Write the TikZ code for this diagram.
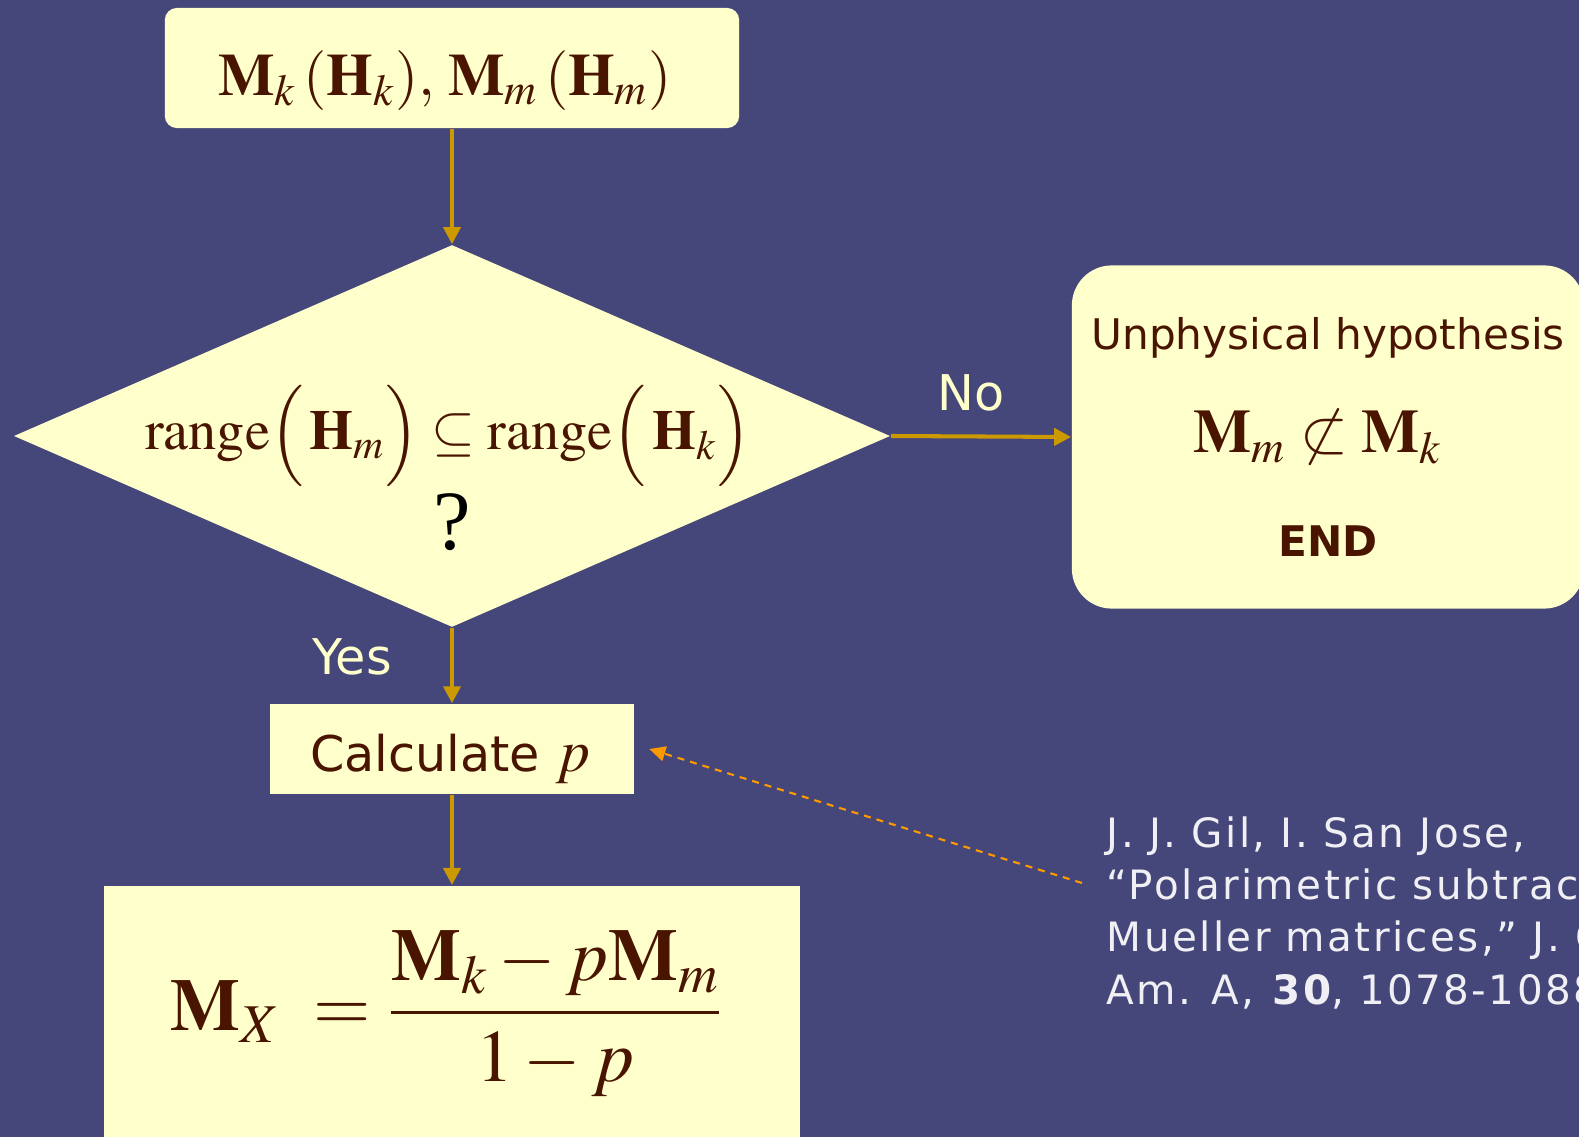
\documentclass[tikz,border=0pt]{standalone}
\usepackage{mathptmx}
\usepackage{fontspec}
\setmainfont{Liberation Serif}
\setsansfont{DejaVu Sans}
\newfontfamily\citefont[LetterSpace=6]{DejaVu Sans}
\usetikzlibrary{shapes.geometric,arrows.meta,positioning}
\definecolor{slidebg}{HTML}{45467A}
\definecolor{cream}{HTML}{FFFFCC}
\definecolor{ink}{HTML}{4A1500}
\definecolor{gold}{HTML}{CC9900}
\definecolor{tangerine}{HTML}{FF9900}

\begin{document}
\begin{tikzpicture}[x=0.01cm, y=-0.01cm,
    box/.style={fill=cream, text=ink, inner sep=0pt},
    flow/.style={gold, line width=1.15pt, -{Triangle[length=0.17cm,width=0.17cm]}},
    refarrow/.style={tangerine, line width=0.6pt, dash pattern=on 2pt off 1.7pt, -{Triangle[length=0.16cm,width=0.15cm]}},
    lbl/.style={text=cream, font=\sffamily\fontsize{14}{16}\selectfont}]
        % Slide
        \useasboundingbox (0,0) rectangle (1579,1137);
        \clip (0,0) rectangle (1579,1137);
        \fill[slidebg] (0,0) rectangle (1579,1137);

        % Boxes
        \node[box, rounded corners=0.12cm, minimum width=5.74cm, minimum height=1.2cm] (inputs) at (452,68) {};
        \node[box, diamond, minimum width=8.76cm, minimum height=3.82cm] (dec) at (452,436) {};
        \node[box, rounded corners=0.4cm, minimum width=5.12cm, minimum height=3.43cm] (unphys) at (1328,437) {};
        \node[box, minimum width=3.63cm, minimum height=0.9cm] (calc) at (452,749) {};
        \node[box, minimum width=6.95cm, minimum height=2.75cm, anchor=north] (result) at (452,885) {};

        % Texts
        \node[text=ink, font=\fontsize{17}{20}\selectfont, anchor=base] (inmat) at (445,96) {$\mathbf{M}_k\,(\mathbf{H}_k),\,\mathbf{M}_m\,(\mathbf{H}_m)$};
        \node[text=ink, font=\fontsize{16}{20}\selectfont, anchor=base] (rng) at (448,450) {$\mathrm{range}\Bigl(\,\mathbf{H}_m\Bigr)\subseteq\mathrm{range}\Bigl(\,\mathbf{H}_k\Bigr)$};
        \node[font=\fontsize{24}{24}\selectfont, anchor=base] (query) at (452,550) {?};
        \node[text=ink, font=\sffamily\fontsize{12}{14}\selectfont, anchor=base] (hyp) at (1328,350) {Unphysical hypothesis};
        \node[text=ink, font=\fontsize{17.5}{20}\selectfont, anchor=base] (notsub) at (1318,453) {$\mathbf{M}_m\not\subset\mathbf{M}_k$};
        \node[text=ink, font=\sffamily\bfseries\fontsize{12}{14}\selectfont, anchor=base] (fin) at (1328,557) {END};
        \node[text=ink, font=\sffamily\fontsize{14}{16}\selectfont, anchor=base] (calctxt) at (450,771) {Calculate~{\fontsize{17}{17}\selectfont$p$}};
        \node[text=ink, font=\fontsize{21}{24}\selectfont] (mx) at (447,1014) {$\displaystyle\mathbf{M}_X\;=\frac{\mathbf{M}_k-p\mathbf{M}_m}{1-p}$};
        \node[lbl] (yes) at (352,657) {Yes};
        \node[lbl] (no) at (971,393) {No};
        \node[anchor=base west, text=white!92!slidebg, font=\citefont\fontsize{11.5}{14.8}\selectfont, align=left, inner sep=0pt] (cite) at (1106,1004) {J. J. Gil, I. San Jose,\\ “Polarimetric subtraction\\ Mueller matrices,” J. Opt.\\ Am. A, \textbf{30}, 1078-1088};

        % Connectors
        \draw[flow] (inputs) -- (dec);
        \draw[flow] (dec.east) -- (unphys.west);
        \draw[flow] (dec) -- (calc);
        \draw[flow] (calc) -- (result);
        \coordinate (citetail) at (1082,883);
        \draw[refarrow] (citetail) -- ([xshift=0.15cm]calc.east);
    \end{tikzpicture}
\end{document}
